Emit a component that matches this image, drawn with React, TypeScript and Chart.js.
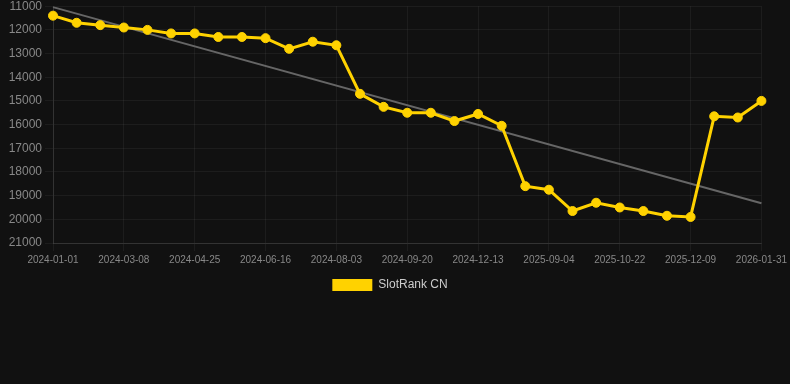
import React, { useEffect, useRef } from "react";
import { Chart, registerables } from "chart.js";

Chart.register(...registerables);

const labels: string[] = [
  "2024-01-01", "2024-01-23", "2024-02-14", "2024-03-08", "2024-03-24", "2024-04-09",
  "2024-04-25", "2024-05-12", "2024-05-29", "2024-06-16", "2024-07-02", "2024-07-18",
  "2024-08-03", "2024-08-19", "2024-09-04", "2024-09-20", "2024-10-18", "2024-11-15",
  "2024-12-13", "2025-03-15", "2025-06-10", "2025-09-04", "2025-09-20", "2025-10-06",
  "2025-10-22", "2025-11-07", "2025-11-23", "2025-12-09", "2025-12-26", "2026-01-13",
  "2026-01-31",
];

const rankValues: number[] = [
  11400, 11700, 11800, 11900, 12000, 12150, 12150, 12300, 12300, 12350, 12800, 12500,
  12650, 14700, 15250, 15500, 15500, 15850, 15550, 16050, 18600, 18750, 19650, 19300,
  19500, 19650, 19850, 19900, 15650, 15700, 15000,
];

const trendValues: (number | null)[] = labels.map((_, i) =>
  i === 0 ? 11040 : i === labels.length - 1 ? 19320 : null
);

const yTicks = { min: 11000, max: 21000, step: 1000 };

export default function App() {
  const ref = useRef<HTMLCanvasElement | null>(null);
  useEffect(() => {
    document.body.style.margin = "0";
    document.body.style.background = "#111111";
    const ctx = ref.current!;
    const chart = new Chart(ctx, {
      type: "line",
      data: {
        labels,
        datasets: [
          {
            label: "SlotRank CN",
            data: rankValues,
            borderColor: "#FFD200",
            backgroundColor: "#FFD200",
            borderWidth: 3,
            pointRadius: 4.5,
            pointBorderWidth: 1,
            pointBackgroundColor: "#FFD200",
            pointBorderColor: "#FFD200",
            tension: 0,
          },
          {
            label: "trend",
            data: trendValues,
            borderColor: "#666666",
            backgroundColor: "#666666",
            borderWidth: 2,
            pointRadius: 0,
            spanGaps: true,
          },
        ],
      },
      options: {
        animation: false,
        responsive: false,
        layout: { padding: { left: 0, right: 10, top: 0 } },
        plugins: {
          legend: {
            position: "bottom",
            labels: {
              color: "#cccccc",
              font: { family: "Arial, 'Liberation Sans', sans-serif", size: 12 },
              boxWidth: 40,
              boxHeight: 12,
              generateLabels: (c) =>
                Chart.defaults.plugins.legend.labels
                  .generateLabels(c)
                  .filter((it) => it.text === "SlotRank CN")
                  .map((it) => ({ ...it, lineWidth: 0 })),
            },
          },
          tooltip: { enabled: false },
        },
        scales: {
          x: {
            grid: { color: "rgba(255,255,255,0.05)" },
            border: { color: "rgba(255,255,255,0.1)" },
            ticks: {
              color: "#888888",
              maxRotation: 0,
              autoSkip: false,
              font: { family: "Arial, 'Liberation Sans', sans-serif", size: 10 },
              callback: function (_v, i) {
                return i % 3 === 0 ? labels[i] : null;
              },
            },
          },
          y: {
            reverse: true,
            min: yTicks.min,
            max: yTicks.max,
            afterFit: (scale) => {
              scale.width = 53;
            },
            grid: { color: "rgba(255,255,255,0.05)" },
            border: { color: "rgba(255,255,255,0.1)" },
            ticks: {
              stepSize: yTicks.step,
              color: "#888888",
              font: { family: "Arial, 'Liberation Sans', sans-serif", size: 12 },
              callback: (v) => String(v),
            },
          },
        },
      },
    });
    return () => chart.destroy();
  }, []);
  return (
    <div style={{ width: 790, height: 384, background: "#111111", overflow: "hidden" }}>
      <canvas ref={ref} width={790} height={305} style={{ display: "block", marginTop: -4 }} />
    </div>
  );
}
